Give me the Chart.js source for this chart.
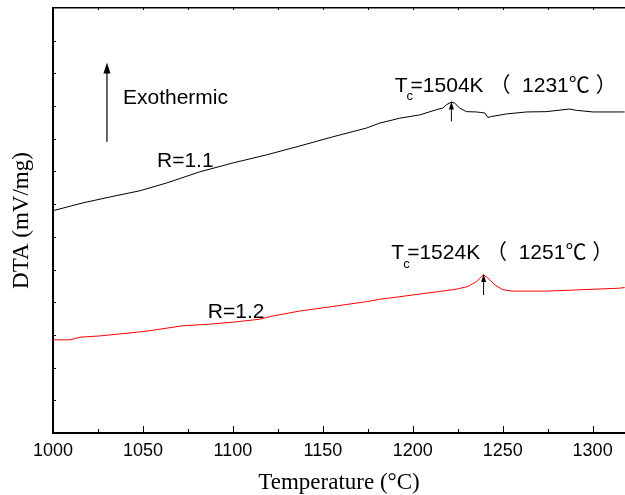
<!DOCTYPE html>
<html><head><meta charset="utf-8">
<script src="https://cdn.jsdelivr.net/npm/chart.js@4/dist/chart.umd.min.js"></script>
<style>html,body{margin:0;padding:0;background:#fff;overflow:hidden}</style>
</head><body>
<canvas id="c" width="625" height="495"></canvas>
<script>
// ---- data (temperature in °C, DTA in arbitrary mV/mg units) ----
const tempR11 = [1000,1016.7,1031.7,1048.3,1063.3,1081.7,1100,1118.9,1137.2,1155.6,1174.4,1181.7,1192.8,1203.9,1213.2,1216.7,1218.7,1221.5,1223.3,1226.1,1229.8,1235.4,1240,1241.8,1243.7,1252.1,1263.2,1274.3,1287.2,1290.9,1300.2,1315,1317.8];
const dtaR11  = [6.80,7.04,7.22,7.41,7.65,7.99,8.26,8.51,8.78,9.06,9.33,9.48,9.63,9.73,9.89,9.94,10.04,10.12,10.09,9.94,9.83,9.82,9.79,9.65,9.68,9.76,9.82,9.83,9.91,9.87,9.82,9.82,9.82];
const tempR12 = [1000,1009.4,1015,1026.1,1044.4,1053.9,1061.1,1072.2,1087.2,1100,1115,1122.2,1137.2,1155.6,1174.4,1181.7,1192.8,1203.9,1215,1224.3,1230.7,1235.4,1238.2,1239.4,1241.8,1245.6,1250.2,1255.7,1274.3,1292.8,1315,1317.8];
const dtaR12  = [2.85,2.85,2.93,2.97,3.07,3.13,3.19,3.28,3.33,3.39,3.48,3.58,3.73,3.87,4.02,4.09,4.17,4.25,4.33,4.40,4.48,4.63,4.78,4.84,4.74,4.53,4.38,4.34,4.34,4.38,4.43,4.45];
const seriesNames = ['R=1.1','R=1.2'];
const seriesColors = ['#000000','#ff0000'];
const xMin = 1000, xMax = 1318, xMajorStep = 50, xMinorStep = 25;
const yMin = 0, yMax = 13, yStep = 1;
const peakTemps = [1221.5, 1239.4];
const peakTc = ['1504K', '1524K'];
const peakC = ['1231℃', '1251℃'];

const sans = '"Liberation Sans", Arial, "Noto Sans CJK SC", sans-serif';
const serif = '"Liberation Serif", "Times New Roman", serif';

function arrow(ctx, x, y0, y1, head, half) {
  ctx.beginPath(); ctx.moveTo(x, y0); ctx.lineTo(x, y1 + head * 0.6); ctx.stroke();
  ctx.beginPath(); ctx.moveTo(x, y1); ctx.lineTo(x - half, y1 + head); ctx.lineTo(x + half, y1 + head); ctx.closePath(); ctx.fill();
}
function tcLabel(ctx, x, y, tc, c) {
  ctx.font = '21px ' + sans;
  ctx.textBaseline = 'middle'; ctx.textAlign = 'left';
  ctx.fillText('T', x, y);
  const tw = ctx.measureText('T').width;
  ctx.font = '13px ' + sans;
  ctx.fillText('c', x + tw - 1, y + 11);
  ctx.font = '21px ' + sans;
  ctx.fillText('=' + tc + ' （  ' + c + ' ）', x + tw + 3, y);
}

const decor = {
  id: 'decor',
  afterDraw(chart) {
    const ctx = chart.ctx, x = chart.scales.x, y = chart.scales.y, ca = chart.chartArea;
    ctx.save();
    ctx.strokeStyle = '#000'; ctx.fillStyle = '#000'; ctx.lineWidth = 1;
    // inward ticks
    for (let v = xMin; v <= xMax; v += xMinorStep) {
      const px = Math.round(x.getPixelForValue(v)) + 0.5;
      const len = (v % xMajorStep === 0) ? 7 : 4;
      ctx.beginPath(); ctx.moveTo(px, ca.bottom); ctx.lineTo(px, ca.bottom - len); ctx.stroke();
      ctx.beginPath(); ctx.moveTo(px, ca.top); ctx.lineTo(px, ca.top + 2); ctx.stroke();
    }
    for (let v = yMin + yStep; v < yMax; v += yStep) {
      const py = Math.round(y.getPixelForValue(v)) + 0.5;
      ctx.beginPath(); ctx.moveTo(ca.left, py); ctx.lineTo(ca.left + 3, py); ctx.stroke();
    }
    // Exothermic arrow and label
    ctx.lineWidth = 1.2;
    arrow(ctx, x.getPixelForValue(1030), y.getPixelForValue(8.91), y.getPixelForValue(11.33), 11, 3.5);
    ctx.font = '21px ' + sans; ctx.textAlign = 'left'; ctx.textBaseline = 'middle';
    ctx.fillText('Exothermic', x.getPixelForValue(1038.9), y.getPixelForValue(10.25));
    // series labels
    ctx.fillText(seriesNames[0], x.getPixelForValue(1057.8), y.getPixelForValue(8.31));
    ctx.fillText(seriesNames[1], x.getPixelForValue(1086.1), y.getPixelForValue(3.69));
    // peak arrows
    ctx.lineWidth = 1;
    arrow(ctx, x.getPixelForValue(peakTemps[0]), y.getPixelForValue(9.53), y.getPixelForValue(10.14), 8, 2.5);
    arrow(ctx, x.getPixelForValue(peakTemps[1]), y.getPixelForValue(4.22), y.getPixelForValue(4.86), 8, 2.5);
    // Tc labels
    tcLabel(ctx, x.getPixelForValue(1190), y.getPixelForValue(10.62), peakTc[0], peakC[0]);
    tcLabel(ctx, x.getPixelForValue(1188.1), y.getPixelForValue(5.49), peakTc[1], peakC[1]);
    ctx.restore();
  }
};

const toXY = (xs, ys) => xs.map((t, i) => ({x: t, y: ys[i]}));

new Chart(document.getElementById('c'), {
  type: 'line',
  data: {
    datasets: [
      {label: seriesNames[0], data: toXY(tempR11, dtaR11), borderColor: seriesColors[0], borderWidth: 1, pointRadius: 0, tension: 0, fill: false},
      {label: seriesNames[1], data: toXY(tempR12, dtaR12), borderColor: seriesColors[1], borderWidth: 1, pointRadius: 0, tension: 0, fill: false}
    ]
  },
  options: {
    responsive: false, animation: false, devicePixelRatio: 1,
    layout: {padding: {top: 8, right: 0, left: 0, bottom: 0}},
    plugins: {legend: {display: false}, tooltip: {enabled: false}},
    scales: {
      x: {
        type: 'linear', position: 'bottom', min: xMin, max: xMax,
        afterFit: s => { s.height = 62; },
        ticks: {stepSize: xMajorStep, includeBounds: false, autoSkip: false, maxRotation: 0, color: '#000', padding: 7, font: {family: sans, size: 18}, callback: v => String(v)},
        grid: {display: false, drawTicks: false},
        border: {display: true, color: '#000', width: 2},
        title: {display: true, text: 'Temperature (°C)', color: '#000', font: {family: serif, size: 23, lineHeight: 1}, padding: {top: 0, bottom: 0.5}}
      },
      x2: {
        type: 'linear', position: 'top', min: xMin, max: xMax,
        ticks: {display: false}, grid: {display: false, drawTicks: false},
        afterFit: s => { s.height = 0; },
        border: {display: true, color: '#000', width: 1.5}
      },
      y: {
        type: 'linear', position: 'left', min: yMin, max: yMax,
        ticks: {display: false, stepSize: yStep},
        grid: {display: false, drawTicks: false},
        afterFit: s => { s.width = 53; },
        border: {display: true, color: '#000', width: 2},
        title: {display: true, text: 'DTA (mV/mg)', color: '#000', font: {family: serif, size: 23, lineHeight: 1}, padding: {top: 10, bottom: 0}}
      }
    }
  },
  plugins: [decor]
});
</script>
</body></html>
